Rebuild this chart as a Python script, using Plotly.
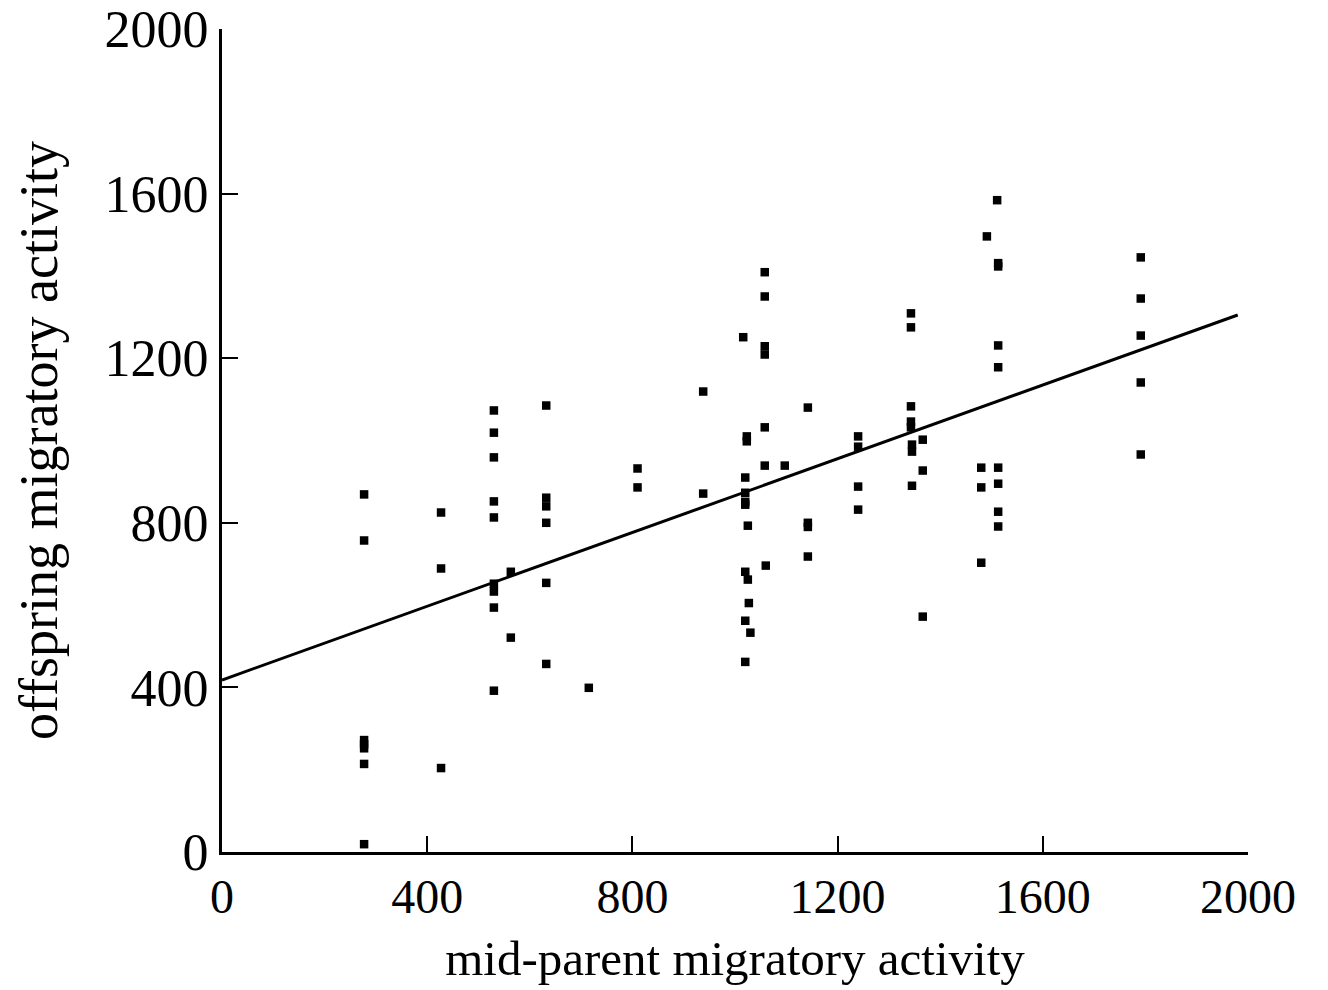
import plotly.graph_objects as go

# mid-parent migratory activity (x) and offspring migratory activity (y)
mid_parent = [
    277, 277, 277, 277, 277, 277, 277,
    427, 427, 427,
    530, 530, 530, 530, 530, 530, 530, 530, 530,
    563, 563,
    632, 632, 632, 632, 632, 632,
    715,
    810, 810,
    938, 938,
    1016, 1023, 1023, 1020, 1020, 1020, 1020, 1025, 1020, 1025, 1027, 1020, 1030, 1020,
    1058, 1058, 1058, 1058, 1058, 1058, 1060,
    1097,
    1142, 1142, 1142, 1142,
    1240, 1240, 1240, 1240,
    1343, 1343, 1343, 1343, 1343, 1345, 1345, 1345,
    1366, 1366, 1366,
    1480, 1480, 1480, 1491,
    1511, 1513, 1513, 1513, 1513, 1513, 1513, 1513, 1513,
    1791, 1791, 1791, 1791, 1791,
]
offspring = [
    869, 757, 272, 262, 252, 214, 19,
    825, 689, 204,
    1073, 1019, 959, 852, 813, 652, 633, 594, 392,
    681, 521,
    1085, 861, 840, 800, 654, 457,
    399,
    932, 886,
    1119, 871,
    1251, 1010, 998, 910, 873, 851, 844, 793, 681, 662, 605, 562, 533, 462,
    1409, 1350, 1229, 1209, 1032, 939, 696,
    939,
    1080, 800, 790, 718,
    1010, 985, 888, 832,
    1309, 1275, 1083, 1046, 1032, 990, 973, 890,
    1002, 927, 572,
    934, 886, 703, 1496,
    1584, 1431, 1423, 1231, 1178, 934, 895, 827, 791,
    1445, 1345, 1255, 1141, 966,
]

# fitted regression line
fit_intercept = 418
fit_slope = 0.448
fit_x = [0, 1980]
fit_y = [fit_intercept + fit_slope * v for v in fit_x]

tick_vals = [0, 400, 800, 1200, 1600, 2000]
tick_text = ["0", "400", "800", "1200", "1600", "2000"]

fig = go.Figure()
fig.add_trace(go.Scatter(
    x=fit_x, y=fit_y, mode="lines",
    line=dict(color="black", width=3), showlegend=False, hoverinfo="skip",
))
fig.add_trace(go.Scatter(
    x=mid_parent, y=offspring, mode="markers",
    marker=dict(symbol="square", size=8.5, color="black"),
    showlegend=False,
))

font_family = "Liberation Serif, Times New Roman, serif"
fig.update_layout(
    width=1328, height=990,
    margin=dict(l=222, r=80, t=29, b=138, autoexpand=False),
    plot_bgcolor="white", paper_bgcolor="white",
    font=dict(family=font_family, color="black"),
)
fig.update_xaxes(
    range=[0, 2000], tickvals=tick_vals, ticktext=tick_text,
    showgrid=False, zeroline=False, automargin=False,
    showline=True, linecolor="black", linewidth=3,
    ticks="inside", ticklen=16, tickwidth=2, tickcolor="black",
    tickfont=dict(size=48, family=font_family),
    title=dict(text="mid-parent migratory activity", font=dict(size=49, family=font_family), standoff=20),
)
fig.update_yaxes(
    range=[0, 2000], tickvals=tick_vals, ticktext=tick_text,
    showgrid=False, zeroline=False, automargin=False,
    showline=True, linecolor="black", linewidth=3,
    ticks="inside", ticklen=16, tickwidth=2, tickcolor="black",
    tickfont=dict(size=52, family=font_family),
    title=dict(text="offspring migratory activity", font=dict(size=54, family=font_family), standoff=30),
)

fig.write_html("out.html")
